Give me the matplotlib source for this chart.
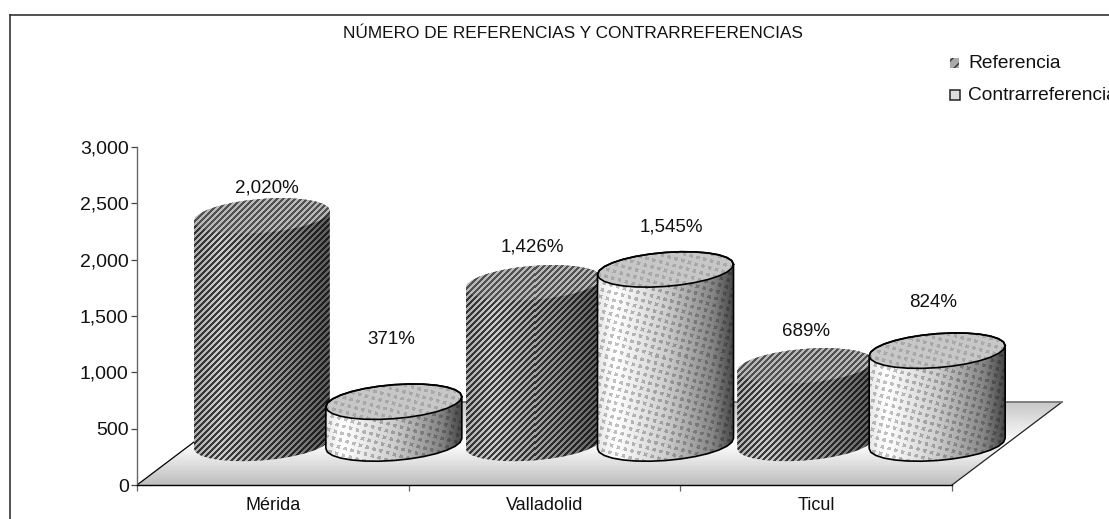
import numpy as np
import matplotlib
matplotlib.use("Agg")
import matplotlib.pyplot as plt
from matplotlib.lines import Line2D
from matplotlib.patches import PathPatch, Rectangle
from matplotlib.path import Path

categorias = ["Mérida", "Valladolid", "Ticul"]
referencia = [2020, 1426, 689]
contrarreferencia = [371, 1545, 824]
yticks = [0, 500, 1000, 1500, 2000, 2500, 3000]
titulo = "NÚMERO DE REFERENCIAS Y CONTRARREFERENCIAS"
leyenda = ["Referencia", "Contrarreferencia"]

W, H = 1109, 519
plt.rcParams["font.family"] = ["Liberation Sans", "DejaVu Sans"]

# px por unidad de los ejes
PX_X = (952 - 137) / 3
PX_Y = (485 - 147) / 3000

# floor depth in data units
DEPTH_X = 110 / PX_X
DEPTH_Y = 83 / PX_Y

# label offsets in pixels: above the top of each bar, and from the group centre
subida_ref = [28, 36, 34]
subida_con = [62, 42, 48]
lado_ref = [-61, -67, -65]
lado_con = [63, 72, 62]


def fx(px):
    return px / W


def fy(py):
    return 1 - py / H


def curva(t, cx, cy, a, b, s):
    # elipse con shear, para que las tangentes en los extremos sean verticales
    return (cx + a * np.cos(t) / PX_X,
            cy + (b * np.sin(t) + s * a * np.cos(t)) / PX_Y)


def rayas(w, h, claro, oscuro):
    yy, xx = np.mgrid[0:h, 0:w]
    m = ((xx + yy) % 6) < 3
    return np.where(m, oscuro, claro)


def puntos(w, h, fondo, punto):
    yy, xx = np.mgrid[0:h, 0:w]
    ang = np.radians(15)
    u = xx * np.cos(ang) + yy * np.sin(ang)
    v = -xx * np.sin(ang) + yy * np.cos(ang)
    m = ((u % 7) < 3.5) & ((v % 7) < 3.5)
    return np.where(m, punto, fondo)


def sombra(w, h, xp, fp):
    return np.tile(np.interp(np.linspace(0, 1, w), xp, fp), (h, 1))


def cilindro(ax, cx, valor, tipo, z):
    a, b, s = 68, 17, 0.075
    base = DEPTH_Y / 2
    top = base + valor
    t = np.linspace(0, 2 * np.pi, 29)
    xt, yt = curva(t, cx, top, a, b, s)
    # cuerpo: media elipse de abajo + media elipse de arriba
    abajo = np.c_[curva(np.linspace(np.pi, 2 * np.pi, 15), cx, base, a, b, s)]
    arriba = np.c_[curva(np.linspace(0, np.pi, 15), cx, top, a, b, s)]
    cuerpo = np.r_[abajo, arriba]
    xmin, xmax = cx - a / PX_X, cx + a / PX_X
    ymin, ymax = base - 25 / PX_Y, top + 25 / PX_Y
    w = int(round(2 * a))
    h = int(round((ymax - ymin) * PX_Y))

    if tipo == "ref":
        sh = sombra(w, h, [0, 0.2, 0.65, 1], [0.85, 1.0, 0.72, 0.45])
        lado = rayas(w, h, 0.8, 0.24) * sh
        tapa = rayas(w, h, 0.72, 0.32)
    else:
        sh = sombra(w, h, [0, 0.12, 0.5, 0.85, 1], [0.9, 1.0, 0.8, 0.52, 0.28])
        lado = puntos(w, h, 1.0, 0.76) * sh
        tapa = puntos(w, h, 0.78, 0.66)

    extent = (xmin, xmax, ymin, ymax)
    im = ax.imshow(lado, cmap="gray", vmin=0, vmax=1, extent=extent, aspect="auto",
                   interpolation="nearest", zorder=z)
    im.set_clip_path(Path(cuerpo), ax.transData)
    im = ax.imshow(tapa, cmap="gray", vmin=0, vmax=1, extent=extent, aspect="auto",
                   interpolation="nearest", zorder=z + 0.1)
    im.set_clip_path(Path(np.c_[xt, yt]), ax.transData)

    if tipo == "con":
        ax.add_patch(PathPatch(Path(np.r_[cuerpo, cuerpo[:1]]), fill=False, ec="black",
                               lw=1.2, zorder=z + 0.2))
        ax.plot(xt, yt, color="black", lw=1.2, zorder=z + 0.3)


def main():
    fig = plt.figure(figsize=(W / 100, H / 100), dpi=100)
    ax = fig.add_axes([fx(137), fy(485), (1075 - 137) / W, (485 - 147) / H])
    ax.patch.set_visible(False)
    ax.set_xlim(-0.5, -0.5 + (1075 - 137) / PX_X)
    ax.set_ylim(0, 3000)

    # piso con degradado
    piso = np.array([[-0.5, 0], [2.5, 0], [2.5 + DEPTH_X, DEPTH_Y], [-0.5 + DEPTH_X, DEPTH_Y]])
    grad = np.interp(np.linspace(0, 1, 84), [0, 0.5, 1], [0.78, 1.0, 0.74]).reshape(-1, 1)
    im = ax.imshow(grad, cmap="gray", vmin=0, vmax=1, aspect="auto", origin="upper",
                   extent=(-0.5, 2.5 + DEPTH_X, 0, DEPTH_Y), zorder=0.5)
    im.set_clip_path(Path(piso), ax.transData)
    ax.plot(piso[[0, 3], 0], piso[[0, 3], 1], color="black", lw=0.9, zorder=0.6)
    ax.plot(piso[[1, 2], 0], piso[[1, 2], 1], color="#222222", lw=0.9, zorder=0.6)
    ax.plot(piso[[3, 2], 0], piso[[3, 2], 1], color="#777777", lw=1.3, zorder=0.6)

    z = 1
    for i in range(len(categorias)):
        centro = i + DEPTH_X / 2
        cilindro(ax, centro - 66 / PX_X, referencia[i], "ref", z)
        cilindro(ax, centro + 66 / PX_X, contrarreferencia[i], "con", z + 1)
        z += 2

        ax.text(centro + lado_ref[i] / PX_X, DEPTH_Y / 2 + referencia[i] + subida_ref[i] / PX_Y,
                f"{referencia[i]:,}%", ha="center", va="center", fontsize=13.5, color="#111111")
        ax.text(centro + lado_con[i] / PX_X, DEPTH_Y / 2 + contrarreferencia[i] + subida_con[i] / PX_Y,
                f"{contrarreferencia[i]:,}%", ha="center", va="center", fontsize=13.5, color="#111111")

    # ejes
    for lado in ["top", "right"]:
        ax.spines[lado].set_visible(False)
    ax.spines["left"].set_color("#666666")
    ax.spines["left"].set_linewidth(1.0)
    ax.spines["bottom"].set_color("black")
    ax.spines["bottom"].set_linewidth(1.0)
    ax.spines["left"].set_bounds(0, 3000)
    ax.spines["bottom"].set_bounds(-0.5, 2.5)
    ax.set_yticks(yticks)
    ax.set_yticklabels([f"{v:,}" for v in yticks], fontsize=14, color="#111111")
    ax.tick_params(axis="y", length=4, width=0.9, color="#444444", pad=2)
    ax.set_xticks([-0.5, 0.5, 1.5, 2.5])
    ax.set_xticklabels([])
    ax.tick_params(axis="x", which="major", length=4, width=0.9, color="#666666")
    ax.set_xticks(range(len(categorias)), minor=True)
    ax.set_xticklabels(categorias, minor=True, fontsize=13, color="#111111")
    ax.tick_params(axis="x", which="minor", length=0, pad=9)

    # marco
    fig.add_artist(Line2D([fx(10), fx(10)], [fy(519), fy(15)], color="#333333", lw=1.2))
    fig.add_artist(Line2D([fx(10), fx(1109)], [fy(15), fy(15)], color="#333333", lw=1.2))

    fig.text(fx(573), fy(33), titulo, ha="center", va="center", fontsize=12.4, color="#111111")

    # leyenda
    fig.add_artist(Rectangle((fx(950), fy(68)), 9 / W, 10 / H, transform=fig.transFigure,
                             fc="#aaaaaa", ec="#333333", lw=0, hatch="///"))
    fig.add_artist(Rectangle((fx(950), fy(100)), 10 / W, 10 / H, transform=fig.transFigure,
                             fc="#dddddd", ec="#222222", lw=1.1))
    fig.text(fx(968), fy(63), leyenda[0], ha="left", va="center", fontsize=13.8, color="#111111")
    fig.text(fx(968), fy(95), leyenda[1], ha="left", va="center", fontsize=13.8, color="#111111")

    fig.savefig("out.png", dpi=100)


if __name__ == "__main__":
    main()
